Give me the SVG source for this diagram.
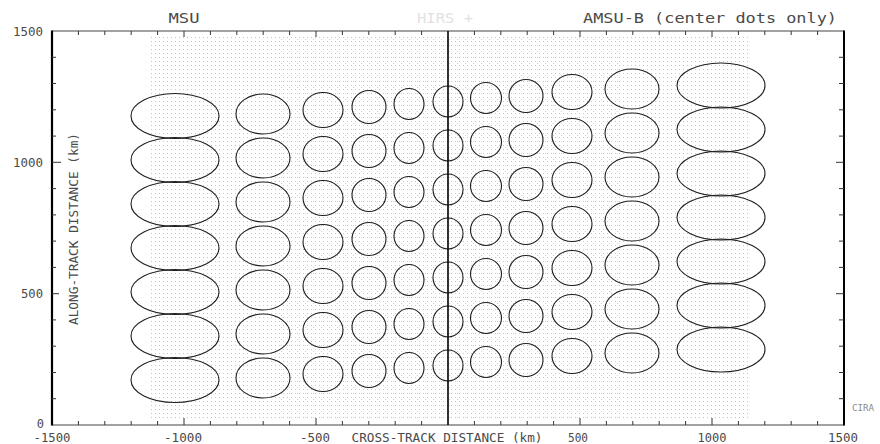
<svg xmlns="http://www.w3.org/2000/svg" width="880" height="444" viewBox="0 0 880 444">
<defs>
<pattern id="dots" x="150" y="36" width="4" height="4" patternUnits="userSpaceOnUse">
<rect x="1" y="1" width="1" height="1" fill="#a0a0a0"/>
</pattern>
<pattern id="dots2" x="150" y="36" width="8" height="6" patternUnits="userSpaceOnUse">
<rect x="3" y="3" width="1" height="1" fill="#c4c4c4"/>
</pattern>
<style>
text{font-family:"DejaVu Sans Mono","Liberation Mono",monospace;fill:#4a4a4a}
.lbl{font-size:13px}
.ttl{font-size:14px}
.fp ellipse{fill:none;stroke:#1e1e1e;stroke-width:1.1}
.tick{stroke:#333;stroke-width:1;fill:none}
</style>
</defs>
<rect width="880" height="444" fill="#fff"/>

<g id="center-dots">
<rect x="150" y="36" width="598" height="384" fill="url(#dots)" opacity="0.6"/>
<rect x="280" y="36" width="340" height="384" fill="url(#dots2)" opacity="0.8"/>
</g>

<g id="footprints" class="fp">
<g id="col1">
<ellipse cx="175" cy="116" rx="44" ry="22.5"/><ellipse cx="175" cy="160" rx="44" ry="22.5"/><ellipse cx="175" cy="204" rx="44" ry="22.5"/><ellipse cx="175" cy="248" rx="44" ry="22.5"/><ellipse cx="175" cy="292" rx="44" ry="22.5"/><ellipse cx="175" cy="336" rx="44" ry="22.5"/><ellipse cx="175" cy="380" rx="44" ry="22.5"/>
</g>
<g id="col2">
<ellipse cx="263" cy="114" rx="27" ry="20"/><ellipse cx="263" cy="158" rx="27" ry="20"/><ellipse cx="263" cy="202" rx="27" ry="20"/><ellipse cx="263" cy="246" rx="27" ry="20"/><ellipse cx="263" cy="290" rx="27" ry="20"/><ellipse cx="263" cy="334" rx="27" ry="20"/><ellipse cx="263" cy="378" rx="27" ry="20"/>
</g>
<g id="col3">
<ellipse cx="323" cy="110" rx="20" ry="17.5"/><ellipse cx="323" cy="154" rx="20" ry="17.5"/><ellipse cx="323" cy="198" rx="20" ry="17.5"/><ellipse cx="323" cy="242" rx="20" ry="17.5"/><ellipse cx="323" cy="286" rx="20" ry="17.5"/><ellipse cx="323" cy="330" rx="20" ry="17.5"/><ellipse cx="323" cy="374" rx="20" ry="17.5"/>
</g>
<g id="col4">
<ellipse cx="369" cy="107" rx="17" ry="16.5"/><ellipse cx="369" cy="151" rx="17" ry="16.5"/><ellipse cx="369" cy="195" rx="17" ry="16.5"/><ellipse cx="369" cy="239" rx="17" ry="16.5"/><ellipse cx="369" cy="283" rx="17" ry="16.5"/><ellipse cx="369" cy="327" rx="17" ry="16.5"/><ellipse cx="369" cy="371" rx="17" ry="16.5"/>
</g>
<g id="col5">
<ellipse cx="409" cy="104" rx="15" ry="15.5"/><ellipse cx="409" cy="148" rx="15" ry="15.5"/><ellipse cx="409" cy="192" rx="15" ry="15.5"/><ellipse cx="409" cy="236" rx="15" ry="15.5"/><ellipse cx="409" cy="280" rx="15" ry="15.5"/><ellipse cx="409" cy="324" rx="15" ry="15.5"/><ellipse cx="409" cy="368" rx="15" ry="15.5"/>
</g>
<g id="col6">
<ellipse cx="448" cy="101.5" rx="15" ry="15.5"/><ellipse cx="448" cy="145.5" rx="15" ry="15.5"/><ellipse cx="448" cy="189.5" rx="15" ry="15.5"/><ellipse cx="448" cy="233.5" rx="15" ry="15.5"/><ellipse cx="448" cy="277.5" rx="15" ry="15.5"/><ellipse cx="448" cy="321.5" rx="15" ry="15.5"/><ellipse cx="448" cy="365.5" rx="15" ry="15.5"/>
</g>
<g id="col7">
<ellipse cx="486" cy="98" rx="15.5" ry="15.5"/><ellipse cx="486" cy="142" rx="15.5" ry="15.5"/><ellipse cx="486" cy="186" rx="15.5" ry="15.5"/><ellipse cx="486" cy="230" rx="15.5" ry="15.5"/><ellipse cx="486" cy="274" rx="15.5" ry="15.5"/><ellipse cx="486" cy="318" rx="15.5" ry="15.5"/><ellipse cx="486" cy="362" rx="15.5" ry="15.5"/>
</g>
<g id="col8">
<ellipse cx="526" cy="96" rx="17" ry="16.5"/><ellipse cx="526" cy="140" rx="17" ry="16.5"/><ellipse cx="526" cy="184" rx="17" ry="16.5"/><ellipse cx="526" cy="228" rx="17" ry="16.5"/><ellipse cx="526" cy="272" rx="17" ry="16.5"/><ellipse cx="526" cy="316" rx="17" ry="16.5"/><ellipse cx="526" cy="360" rx="17" ry="16.5"/>
</g>
<g id="col9">
<ellipse cx="572" cy="92" rx="20" ry="17.5"/><ellipse cx="572" cy="136" rx="20" ry="17.5"/><ellipse cx="572" cy="180" rx="20" ry="17.5"/><ellipse cx="572" cy="224" rx="20" ry="17.5"/><ellipse cx="572" cy="268" rx="20" ry="17.5"/><ellipse cx="572" cy="312" rx="20" ry="17.5"/><ellipse cx="572" cy="356" rx="20" ry="17.5"/>
</g>
<g id="col10">
<ellipse cx="632" cy="89" rx="27" ry="20"/><ellipse cx="632" cy="133" rx="27" ry="20"/><ellipse cx="632" cy="177" rx="27" ry="20"/><ellipse cx="632" cy="221" rx="27" ry="20"/><ellipse cx="632" cy="265" rx="27" ry="20"/><ellipse cx="632" cy="309" rx="27" ry="20"/><ellipse cx="632" cy="353" rx="27" ry="20"/>
</g>
<g id="col11">
<ellipse cx="721" cy="85.5" rx="44" ry="22.5"/><ellipse cx="721" cy="129.5" rx="44" ry="22.5"/><ellipse cx="721" cy="173.5" rx="44" ry="22.5"/><ellipse cx="721" cy="217.5" rx="44" ry="22.5"/><ellipse cx="721" cy="261.5" rx="44" ry="22.5"/><ellipse cx="721" cy="305.5" rx="44" ry="22.5"/><ellipse cx="721" cy="349.5" rx="44" ry="22.5"/>
</g>
</g>

<g id="axes">
<line x1="52" y1="31" x2="844" y2="31" stroke="#444" stroke-width="1.2"/>
<line x1="52" y1="425" x2="844" y2="425" stroke="#444" stroke-width="1.2"/>
<line x1="52" y1="30.5" x2="52" y2="425.5" stroke="#000" stroke-width="2.2"/>
<line x1="844" y1="30.5" x2="844" y2="425.5" stroke="#000" stroke-width="2"/>
<line x1="448" y1="31" x2="448" y2="425" stroke="#000" stroke-width="1.6"/>
<path class="tick" d="M78.4 31v4M104.8 31v4M131.2 31v4M157.6 31v4M210.4 31v4M236.8 31v4M263.2 31v4M289.6 31v4M342.4 31v4M368.8 31v4M395.2 31v4M421.6 31v4M474.4 31v4M500.8 31v4M527.2 31v4M553.6 31v4M606.4 31v4M632.8 31v4M659.2 31v4M685.6 31v4M738.4 31v4M764.8 31v4M791.2 31v4M817.6 31v4M184 31v6M316 31v6M580 31v6M712 31v6"/>
<path class="tick" d="M78.4 425v-4M104.8 425v-4M131.2 425v-4M157.6 425v-4M210.4 425v-4M236.8 425v-4M263.2 425v-4M289.6 425v-4M342.4 425v-4M368.8 425v-4M395.2 425v-4M421.6 425v-4M474.4 425v-4M500.8 425v-4M527.2 425v-4M553.6 425v-4M606.4 425v-4M632.8 425v-4M659.2 425v-4M685.6 425v-4M738.4 425v-4M764.8 425v-4M791.2 425v-4M817.6 425v-4M184 425v-7M316 425v-7M580 425v-7M712 425v-7"/>
<path class="tick" d="M52 398.7h4M52 372.5h4M52 346.2h4M52 319.9h4M52 267.4h4M52 241.1h4M52 214.9h4M52 188.6h4M52 136.1h4M52 109.8h4M52 83.5h4M52 57.3h4M52 293.7h7M52 162.3h9"/>
<path class="tick" d="M844 398.7h-5M844 372.5h-5M844 346.2h-5M844 319.9h-5M844 267.4h-5M844 241.1h-5M844 214.9h-5M844 188.6h-5M844 136.1h-5M844 109.8h-5M844 83.5h-5M844 57.3h-5M844 293.7h-8M844 162.3h-8"/>
</g>

<g id="labels">
<text class="ttl" x="184" y="23" text-anchor="middle" textLength="31" lengthAdjust="spacingAndGlyphs">MSU</text>
<text class="ttl" x="417" y="23" style="fill:#e2e2e2" textLength="56" lengthAdjust="spacingAndGlyphs">HIRS  +</text>
<text class="ttl" x="583" y="23" textLength="254" lengthAdjust="spacingAndGlyphs">AMSU-B (center dots only)</text>
<text class="lbl" x="43" y="36" text-anchor="end" textLength="30" lengthAdjust="spacingAndGlyphs">1500</text>
<text class="lbl" x="43" y="167" text-anchor="end" textLength="30" lengthAdjust="spacingAndGlyphs">1000</text>
<text class="lbl" x="43" y="298" text-anchor="end" textLength="22" lengthAdjust="spacingAndGlyphs">500</text>
<text class="lbl" x="44" y="428" text-anchor="end" style="font-size:12px">0</text>
<text class="lbl" x="52" y="442" text-anchor="middle" textLength="37" lengthAdjust="spacingAndGlyphs">-1500</text>
<text class="lbl" x="183" y="442" text-anchor="middle" textLength="38" lengthAdjust="spacingAndGlyphs">-1000</text>
<text class="lbl" x="315" y="442" text-anchor="middle" textLength="30" lengthAdjust="spacingAndGlyphs">-500</text>
<text class="lbl" x="578" y="442" text-anchor="middle" textLength="20" lengthAdjust="spacingAndGlyphs">500</text>
<text class="lbl" x="712" y="442" text-anchor="middle" textLength="29" lengthAdjust="spacingAndGlyphs">1000</text>
<text class="lbl" x="843" y="442" text-anchor="middle" textLength="30" lengthAdjust="spacingAndGlyphs">1500</text>
<text class="lbl" x="447" y="442" text-anchor="middle" textLength="191" lengthAdjust="spacingAndGlyphs">CROSS-TRACK DISTANCE (km)</text>
<text class="lbl" transform="translate(78 229) rotate(-90)" x="0" y="0" text-anchor="middle" textLength="192" lengthAdjust="spacingAndGlyphs">ALONG-TRACK DISTANCE (km)</text>
<text x="852" y="411" style="font-size:9px;fill:#8a8a8a" textLength="22" lengthAdjust="spacingAndGlyphs">CIRA</text>
</g>
</svg>
